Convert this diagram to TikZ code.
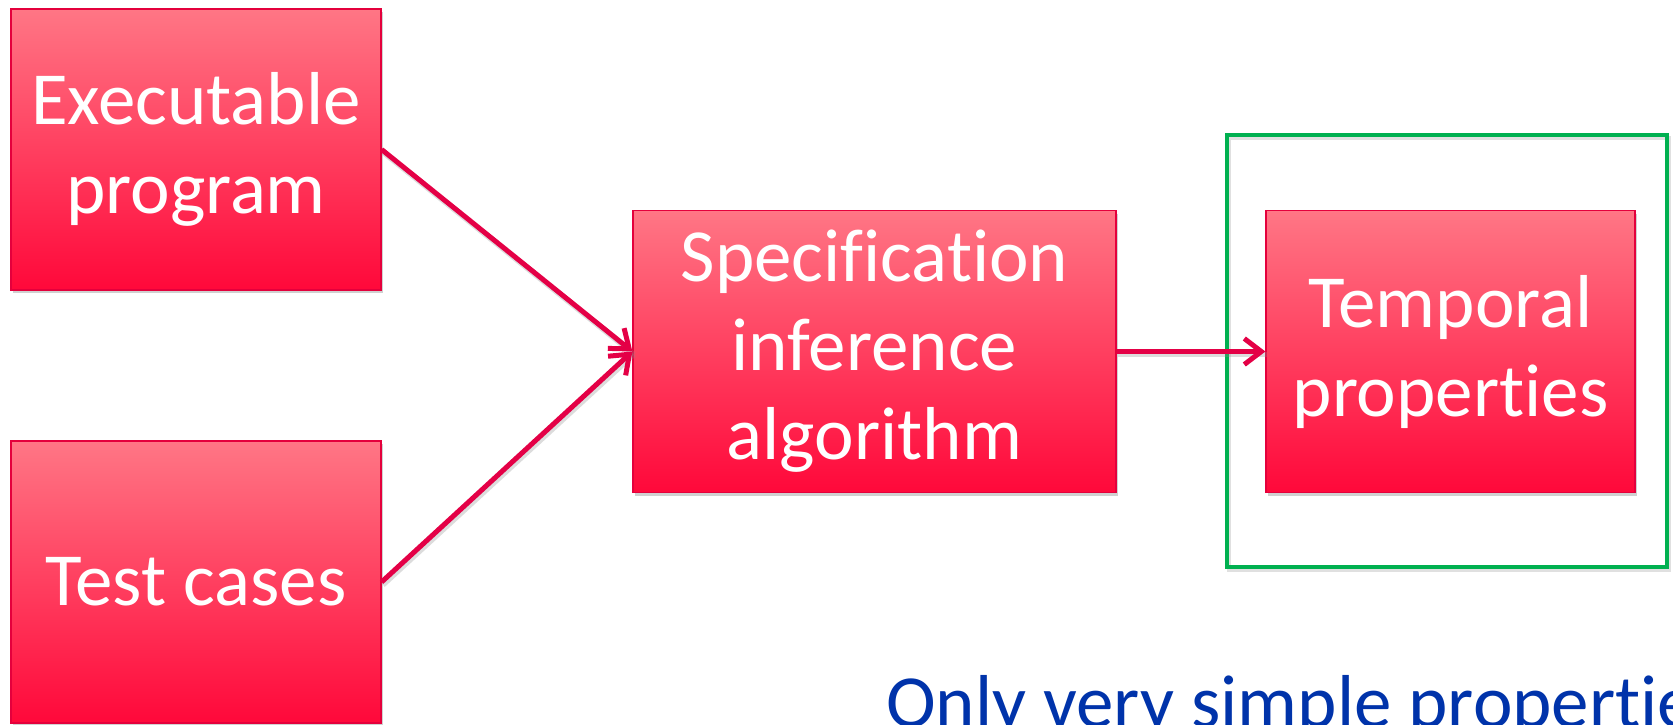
\documentclass[tikz,border=0pt]{standalone}
\usepackage{fontspec}
\setmainfont{Carlito}[Ligatures=NoCommon]
\usetikzlibrary{arrows.meta,shadows}
\definecolor{boxtop}{RGB}{255,118,133}
\definecolor{boxmid}{RGB}{255,84,104}
\definecolor{boxbot}{RGB}{255,8,58}
\definecolor{boxline}{RGB}{228,0,60}
\definecolor{flow}{RGB}{228,0,70}
\definecolor{frame}{RGB}{0,176,80}
\definecolor{note}{RGB}{0,51,170}
\tikzset{
  stepbox/.style={draw=boxline, line width=1.2pt, top color=boxtop, middle color=boxmid, bottom color=boxbot,
    text=white, align=center, inner sep=0pt, font=\fontsize{75}{89}\selectfont,
    drop shadow={shadow xshift=2pt, shadow yshift=-3pt, opacity=0.3, fill=black!60}},
  flowarrow/.style={draw=flow, line width=5pt, -{Straight Barb[length=17pt,width=26pt,line width=5pt]}},
  flowshadow/.style={draw=black!45, opacity=0.3, line width=5pt, transform canvas={shift={(1.5pt,-3pt)}}},
}
\begin{document}
\begin{tikzpicture}[x=1pt,y=-1pt]
  \clip (0,0) rectangle (1673,724);
  \useasboundingbox (0,0) rectangle (1673,724);
  \fill[white] (0,0) rectangle (1673,724);

  % frame around the output, with a faint shadow
  \draw[black!40, opacity=0.3, line width=4pt, transform canvas={shift={(2pt,-3pt)}}] (1227,135) rectangle (1667,567);
  \node[draw=frame, line width=4pt, minimum width=440pt, minimum height=432pt, inner sep=0pt] (frm) at (1447,351) {};

  % input boxes
  \node[stepbox, minimum width=370pt, minimum height=281pt] (exe) at (196,149.5) {Executable\\program};
  \node[stepbox, minimum width=370pt, minimum height=282pt] (tests) at (196,582) {Test cases};

  % inference step
  \node[stepbox, minimum width=483pt, minimum height=282pt] (spec) at (874.5,351.5) {Specification\\inference\\algorithm};

  % output
  \node[stepbox, minimum width=369pt, minimum height=282pt] (temp) at (1450.5,351.5) {Temporal\\properties};

  % connectors, each over a faint shadow
  \draw[flowshadow] (exe.east) -- (spec.west);
  \draw[flowshadow] (tests.east) -- (spec.west);
  \draw[flowshadow] (spec.east) -- (temp.west);
  \draw[flowarrow] (exe.east) -- (spec.west);
  \draw[flowarrow] (tests.east) -- (spec.west);
  \draw[flowarrow] (spec.east) -- (temp.west);

  % note along the bottom
  \node[anchor=base west, text=note, inner sep=0pt, font=\fontsize{75}{90}\selectfont] (remark) at (886,727) {Only very simple properties};
\end{tikzpicture}
\end{document}
